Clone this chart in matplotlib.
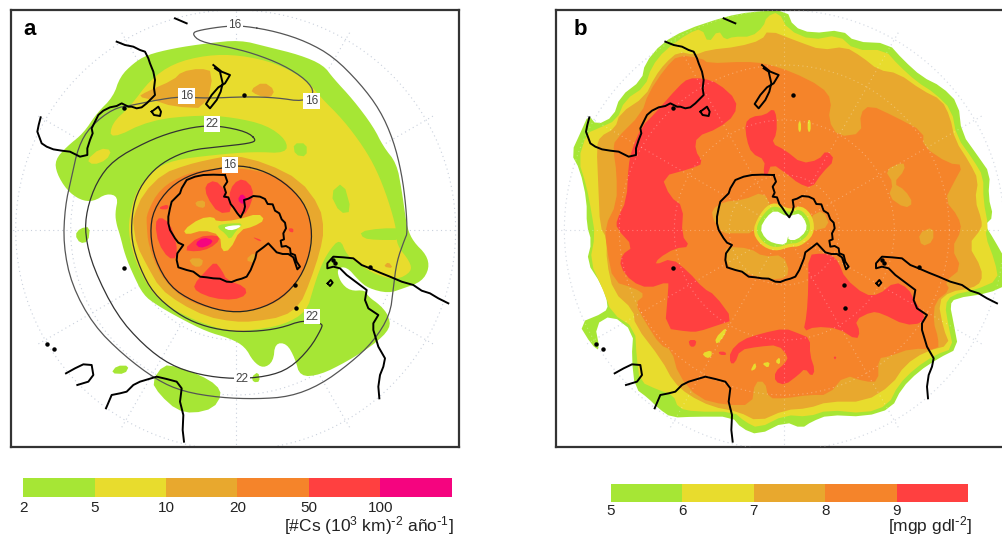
import numpy as np
import matplotlib
matplotlib.use("Agg")
import matplotlib.pyplot as plt

plt.rcParams['font.family'] = ['Liberation Sans', 'DejaVu Sans']
plt.rcParams['mathtext.default'] = 'regular'

# colours of the classes
GREEN = '#A6E635'
YELLOW = '#E8DC2D'
GOLD = '#E8A82E'
ORANGE = '#F5842A'
RED = '#FF4040'
MAGENTA = '#F5047F'

# legends
levels_a = ['2', '5', '10', '20', '50', '100']
levels_b = ['5', '6', '7', '8', '9']
colors_a = [GREEN, YELLOW, GOLD, ORANGE, RED, MAGENTA]
colors_b = [GREEN, YELLOW, GOLD, ORANGE, RED]

# map outlines, all traced from the picture (units = 1/3 pixel)
# ---- panel a
a_green = [(720,120),(800,140),(900,165),(970,195),(1000,235),(1060,300),(1120,380),(1150,440),(1190,490),(1205,570),(1215,640),(1222,685),(1240,725),(1280,765),(1288,805),(1265,845),(1210,865),(1165,880),(1105,865),(1075,840),(1040,800),(1010,805),(1020,845),(1050,873),(1095,870),(1105,890),(1140,915),(1165,945),(1172,985),(1120,1035),(1040,1085),(960,1125),(900,1130),(885,1075),(860,1030),(825,1030),(820,1085),(790,1105),(760,1085),(735,1040),(690,1015),(620,995),(540,955),(470,915),(430,885),(400,825),(375,765),(360,705),(350,675),(345,640),(355,590),(320,580),(280,605),(240,600),(200,570),(170,520),(165,480),(200,440),(250,400),(290,340),(340,290),(360,230),(400,190),(440,165),(520,145),(620,130)]
a_green_isolated = [
    [(225,705),(240,685),(270,680),(265,725),(240,730)],
    [(333,1120),(350,1097),(388,1097),(375,1122)],
    [(455,1145),(490,1095),(530,1100),(600,1125),(650,1155),(665,1185),(640,1225),(580,1240),(530,1230),(480,1185)],
    [(755,1130),(775,1115),(780,1145),(760,1147)],
]
a_yellow = [(330,420),(335,370),(390,320),(450,240),(520,190),(620,165),(720,165),(830,190),(920,240),(960,290),(1030,360),(1090,440),(1130,510),(1165,600),(1190,690),(1190,735),(1230,785),(1235,815),(1190,840),(1130,825),(1080,795),(1040,765),(1020,715),(985,755),(960,805),(940,865),(920,935),(850,975),(760,990),(700,995),(620,975),(540,940),(470,895),(430,835),(400,765),(385,695),(390,640),(410,570),(460,510),(520,480),(640,465),(760,455),(860,460),(860,420),(800,375),(700,352),(600,345),(450,360)]
a_yellow_small = [[(260,480),(300,445),(335,450),(320,480),(280,495)]]
a_green_over = [
    [(880,430),(920,430),(920,470),(885,465)],
    [(990,580),(1030,545),(1055,635),(1020,640)],
    [(1080,695),(1140,685),(1210,685),(1205,720),(1130,720),(1090,715)],
]
a_gold = [[(620,480),(700,465),(800,490),(900,540),(960,620),(972,690),(960,755),(930,845),(900,915),(850,950),(760,965),(700,965),(620,950),(540,910),(480,865),(440,795),(410,735),(400,675),(400,650),(430,580),(490,520),(560,495)],
          [(415,290),(440,275),(520,240),(545,215),(600,205),(640,215),(620,325),(520,320),(460,300)],
          [(750,270),(790,245),(825,270),(810,295),(770,285)],
          [(1150,800),(1165,785),(1180,805)]]
a_orange = [(640,505),(740,505),(840,530),(900,590),(930,660),(935,690),(925,785),(880,865),(820,915),(720,937),(620,925),(540,890),(480,825),(445,735),(440,675),(440,640),(480,565),(560,520)]
a_center_gold = [[(585,605),(615,600),(615,625),(590,620)],
                 [(565,775),(610,775),(605,800),(580,800)],
                 [(735,780),(765,755),(765,790)]]
a_center_yellow = [(550,690),(600,655),(640,650),(650,665),(710,660),(775,640),(795,660),(760,680),(720,690),(690,750),(665,755),(660,705),(610,690),(560,705)]
a_center_green = [(655,675),(690,670),(730,670),(710,690),(690,720),(675,700),(655,685)]
a_center_white = [(670,683),(690,677),(725,675),(715,685),(690,692)]
a_red = [[(615,555),(645,540),(675,570),(700,635),(655,640),(620,590)],
         [(685,590),(700,550),(730,535),(760,565),(755,610),(730,650),(705,630)],
         [(465,670),(480,650),(510,670),(530,730),(530,775),(505,775),(475,730)],
         [(580,855),(620,810),(645,785),(665,810),(680,840),(735,860),(740,885),(700,900),(640,895),(590,875)],
         [(550,750),(595,710),(650,705),(660,720),(630,745),(590,755)],
         [(480,620),(505,613),(505,628),(480,628)],
         [(865,685),(880,685),(880,698),(868,695)],
         [(755,710),(785,720),(780,725)]]
a_magenta = [[(585,730),(610,712),(640,720),(630,735),(600,745)],
             [(712,600),(725,580),(740,595),(730,615)]]
# contours: closed traces
a_cont_16_outer = [(735,78),(830,95),(920,125),(1000,170),(1080,250),(1140,330),(1180,420),(1205,520),(1218,620),(1222,700),(1215,715),(1190,785),(1180,865),(1170,945),(1120,1025),(1050,1090),(960,1155),(870,1190),(770,1197),(660,1193),(550,1175),(470,1140),(370,1065),(280,975),(215,855),(190,735),(195,620),(215,530),(235,440),(270,380),(340,325),(400,315),(470,300),(540,290),(620,295),(740,290),(830,293),(910,305),(945,280),(920,240),(850,195),(760,160),(680,140),(600,125),(575,100),(600,90),(680,78)]
a_cont_22 = [(770,420),(740,395),(660,378),(600,378),(520,395),(440,425),(340,480),(290,545),(260,630),(255,705),(280,805),(350,945),(430,1035),(510,1095),(600,1125),(700,1137),(800,1130),(870,1105),(930,1045),(965,985),(967,970),(910,960),(840,985),(760,995),(680,993),(600,975),(530,940),(460,880),(420,805),(395,725),(395,650),(410,580),(450,520),(500,480),(570,450),(660,440),(750,430)]
a_cont_16_inner = [(720,495),(800,515),(870,560),(920,620),(938,700),(925,780),(890,850),(830,905),(750,935),(670,935),(580,905),(510,860),(465,780),(450,700),(460,630),(510,560),(580,520),(660,505)]
cont_labels = [('16', 705, 75), ('16', 560, 288), ('16', 935, 303), ('22', 635, 372),
               ('16', 690, 495), ('22', 937, 950), ('22', 725, 1137)]

# ---- panel b
b_green = [(725,30),(745,80),(800,100),(890,90),(930,125),(1030,130),(1075,180),(1130,230),(1190,260),(1240,310),(1250,400),(1300,470),(1335,520),(1330,590),(1345,650),(1320,675),(1345,715),(1385,785),(1385,855),(1330,880),(1230,895),(1215,915),(1225,965),(1240,1045),(1180,1075),(1120,1115),(1070,1165),(1040,1225),(960,1250),(850,1245),(800,1265),(770,1285),(720,1265),(640,1305),(590,1285),(560,1250),(450,1250),(380,1253),(340,1225),(310,1195),(270,1165),(260,1075),(265,995),(200,945),(150,975),(165,1053),(140,1035),(100,970),(180,937),(190,915),(170,855),(125,785),(140,725),(125,675),(125,600),(105,510),(78,460),(110,390),(130,345),(155,375),(205,350),(225,290),(290,240),(300,190),(350,130),(420,90),(540,50),(620,35)]
b_yellow = [(430,100),(470,85),(490,130),(520,90),(540,120),(565,110),(620,110),(655,80),(665,50),(700,35),(730,90),(800,120),(880,105),(930,150),(1020,150),(1060,195),(1115,245),(1170,280),(1220,330),(1235,410),(1285,480),(1315,530),(1315,600),(1330,680),(1320,705),(1350,785),(1360,840),(1290,870),(1220,885),(1200,915),(1210,975),(1225,1045),(1170,1065),(1110,1105),(1060,1155),(1030,1215),(960,1240),(850,1230),(790,1250),(720,1245),(640,1285),(600,1265),(565,1235),(450,1235),(400,1225),(385,1185),(340,1170),(285,1145),(275,1075),(270,985),(200,940),(175,870),(135,785),(150,705),(140,640),(125,560),(100,480),(125,400),(160,385),(215,360),(240,300),(300,260),(320,200),(360,150)]
b_gold = [(360,190),(400,155),(450,165),(490,150),(580,140),(650,120),(670,90),(760,125),(830,150),(900,140),(950,170),(1000,210),(1060,220),(1130,270),(1190,300),(1215,350),(1230,420),(1275,490),(1300,540),(1290,600),(1310,660),(1310,685),(1270,735),(1310,805),(1310,845),(1280,865),(1215,875),(1180,905),(1195,985),(1215,1035),(1140,1055),(1080,1095),(1040,1155),(960,1205),(850,1205),(790,1225),(720,1230),(640,1265),(580,1235),(500,1220),(430,1185),(385,1145),(350,1080),(270,975),(265,930),(205,875),(185,785),(185,715),(165,680),(160,560),(155,440),(165,410),(210,385),(225,340),(300,290),(330,230)]
b_orange = [(360,205),(400,165),(470,175),(490,190),(600,185),(660,190),(740,215),(830,260),(860,300),(850,360),(880,410),(950,400),(945,340),(975,315),(1050,350),(1135,395),(1135,440),(1210,490),(1255,495),(1225,550),(1200,600),(1240,650),(1250,690),(1220,745),(1250,805),(1200,845),(1215,870),(1170,905),(1165,965),(1180,1015),(1180,1050),(1100,1045),(1030,1070),(1000,1075),(1000,1145),(960,1145),(900,1125),(850,1185),(790,1185),(720,1195),(670,1195),(660,1145),(630,1145),(620,1215),(540,1215),(460,1195),(400,1125),(380,1050),(345,1035),(300,965),(270,910),(300,885),(270,865),(205,845),(185,745),(180,680),(215,610),(215,520),(205,450),(210,420),(290,340),(310,280)]
b_gold_over = [[(500,630),(535,605),(595,600),(655,575),(680,620),(635,655),(625,700),(575,700),(535,700),(520,680),(505,660)],
               [(545,740),(615,745),(655,770),(715,765),(735,820),(705,840),(635,830),(575,810),(550,800),(540,765)],
               [(1020,510),(1075,485),(1080,510),(1045,550),(1080,570),(1105,610),(1080,625),(1030,590),(1045,550)],
               [(1120,700),(1165,680),(1165,725),(1130,740)],
               [(795,650),(835,630),(855,680),(795,695)]]
b_yellow_over = [[(510,1015),(545,980),(540,1005),(515,1035)],
                 [(470,1060),(500,1050),(500,1070),(485,1075)],
                 [(615,1115),(630,1085),(635,1105)],
                 [(650,1090),(675,1085),(670,1105)],
                 [(690,1085),(705,1070),(705,1095)],
                 [(760,365),(768,365),(768,395),(760,395)],
                 [(788,360),(797,360),(797,395),(788,395)]]
b_red = [[(400,260),(430,235),(475,235),(520,250),(575,300),(570,345),(520,385),(455,410),(450,450),(475,490),(440,505),(350,530),(375,590),(415,620),(410,705),(435,740),(390,745),(340,775),(330,795),(380,775),(430,815),(475,865),(510,885),(565,960),(520,975),(460,995),(430,995),(360,985),(370,865),(370,845),(310,865),(260,845),(225,800),(230,765),(265,740),(215,685),(215,660),(245,600),(250,500),(260,450),(290,380),(330,340)],
         [(600,370),(620,350),(660,345),(685,325),(695,350),(695,400),(680,430),(720,450),(770,490),(820,480),(845,450),(870,480),(830,520),(800,565),(760,550),(730,525),(680,490),(665,530),(655,520),(660,480),(620,460),(605,420)],
         [(790,765),(830,760),(860,765),(880,785),(900,835),(960,885),(1000,885),(1050,845),(1090,865),(1110,905),(1140,945),(1130,970),(1080,975),(1010,940),(980,935),(930,960),(945,995),(935,1020),(880,985),(810,980),(775,995),(785,945),(790,865)],
         [(555,1055),(590,1020),(650,1000),(720,985),(760,1000),(795,1015),(795,1065),(810,1110),(800,1130),(780,1105),(760,1125),(720,1155),(690,1145),(690,1115),(720,1090),(730,1070),(700,1035),(640,1040),(585,1050),(570,1090),(555,1090)],
         [(430,1020),(455,1020),(450,1040),(435,1040)],
         [(520,1055),(540,1055),(545,1065),(525,1065)],
         [(865,1070),(875,1070),(870,1080)]]
b_hole_yellow = [(620,690),(655,625),(690,605),(735,630),(770,615),(805,650),(808,705),(765,740),(735,740),(690,755),(645,735)]
b_hole_green = [(630,685),(660,635),(690,615),(735,640),(765,625),(795,660),(795,700),(760,730),(735,730),(690,745),(650,725)]
b_hole_white = [(645,685),(665,650),(690,630),(725,650),(745,645),(765,640),(785,670),(783,695),(755,720),(730,720),(730,705),(723,735),(685,730),(660,715)]

# ---- coastlines (as in panel a, panel b is shifted)
coast_antarctica = [(675,525),(682,545),(672,560),(678,578),(672,590),(685,592),(692,612),(700,622),(712,640),(722,652),(732,632),(735,620),(732,600),(745,596),(760,588),(780,590),(795,597),(803,612),(818,613),(825,632),(838,640),(845,658),(855,668),(858,685),(850,700),(852,718),(842,722),(845,740),(858,738),(870,745),(872,760),(885,765),(890,785),(900,800),(892,808),(880,772),(865,762),(848,762),(830,757),(805,730),(790,742),(770,757),(766,775),(760,790),(752,810),(740,830),(725,836),(710,840),(695,846),(680,845),(660,836),(640,835),(620,832),(600,830),(580,815),(560,810),(535,802),(530,780),(532,760),(550,735),(535,728),(525,715),(510,690),(505,670),(505,650),(510,625),(515,605),(540,580),(545,565),(560,540),(585,530),(610,525),(640,524),(675,525)]
coast_australia = [(350,125),(375,135),(400,140),(420,150),(435,155),(445,175),(450,190),(460,215),(465,240),(462,265),(465,285),(450,300),(440,310),(425,322),(410,325),(395,320),(385,320),(365,310),(350,318),(330,322),(310,332),(295,345),(285,365),(275,385),(278,400),(270,420),(262,445),(262,465),(240,470),(210,455),(185,452),(160,448),(140,440),(125,430),(112,395),(116,375),(122,352)]
coast_tasmania = [(455,335),(475,320),(483,335),(480,348),(462,345),(455,335)]
coast_nz = [(640,195),(665,215),(690,225),(675,250),(655,262),(635,285),(618,312),(630,325),(650,300),(662,275),(668,250),(660,215),(645,205)]
coast_samerica = [(1345,910),(1315,895),(1290,880),(1265,872),(1240,855),(1205,845),(1170,830),(1140,818),(1110,805),(1085,795),(1060,775),(1030,772),(1000,770),(982,790),(982,805),(1000,800),(1020,805),(1040,825),(1060,840),(1080,855),(1100,870),(1095,900),(1105,925),(1135,945),(1120,970),(1120,990),(1135,1040),(1155,1075),(1150,1100),(1140,1125),(1135,1160),(1138,1195)]
coast_safrica = [(318,1225),(335,1185),(360,1180),(380,1175),(400,1155),(420,1145),(470,1130),(500,1137),(530,1145),(545,1165),(540,1205),(550,1245),(548,1290),(552,1325)]
coast_madagascar = [(198,1120),(225,1105),(250,1093),(275,1095),(280,1125),(265,1145),(232,1155)]
coast_falkland = [(983,850),(992,840),(998,848),(990,858),(983,850)]
coast_bit = [(525,55),(560,70)]
coast_lines = [coast_antarctica, coast_australia, coast_tasmania, coast_nz, coast_samerica,
               coast_safrica, coast_madagascar, coast_falkland, coast_bit]
islands_x = [372, 142, 163, 885, 888, 732, 372, 1000, 1005, 1110]
islands_y = [803, 1033, 1048, 855, 925, 285, 323, 780, 790, 800]

# graticule
grid_radii = [165, 330, 495, 660]
grid_angles = [0, 30, 60, 90, 120, 150, 180, 210, 240, 270, 300, 330]


def rounded(pts, n=2):
    # corner cutting on a closed outline, for drawing only
    p = np.array(pts, dtype=float)
    for _ in range(n):
        q = np.roll(p, -1, axis=0)
        p = np.column_stack([0.75 * p + 0.25 * q, 0.25 * p + 0.75 * q]).reshape(-1, 2)
    return p


def fill(ax, pts, color, z, n=2):
    p = rounded(pts, n)
    ax.fill(p[:, 0], p[:, 1], color=color, lw=0, zorder=z)


def make_map(left_px, right_px, x0):
    # axis in 1/3 pixel units, y down
    ax = fig.add_axes([left_px / W, 1 - 447 / H, (right_px - left_px) / W, 437 / H])
    ax.set_xlim(x0, x0 + (right_px - left_px) * 3)
    ax.set_ylim(1341, 30)
    ax.set_xticks([])
    ax.set_yticks([])
    for s in ax.spines.values():
        s.set_color('#333333')
        s.set_linewidth(1.6)
    return ax


def graticule(ax, cx, cy, color, z, alpha=1.0):
    t = np.linspace(0, 2 * np.pi, 361)
    dots = (0, (1, 3))
    for r in grid_radii:
        ax.plot(cx + r * np.cos(t), cy + r * np.sin(t), ls=dots, lw=0.8, color=color, zorder=z, alpha=alpha)
    for ang in grid_angles:
        a = np.deg2rad(ang)
        ax.plot([cx, cx + 690 * np.cos(a)], [cy, cy + 690 * np.sin(a)], ls=dots, lw=0.8,
                color=color, zorder=z, alpha=alpha)


def coasts(ax, dx):
    for line in coast_lines:
        x, y = zip(*line)
        ax.plot(np.array(x) + dx, y, color='black', lw=1.4, zorder=8)
    ax.plot(np.array(islands_x) + dx, islands_y, 'o', color='black', ms=2.2, zorder=8)


def legend(left, right, top, bottom, colors, labels, label_y):
    ax = fig.add_axes([left / W, 1 - bottom / H, (right - left) / W, (bottom - top) / H])
    ax.bar(range(len(colors)), [1] * len(colors), width=1.0, align='edge', color=colors)
    ax.set_xlim(0, len(colors))
    ax.set_ylim(0, 1)
    ax.axis('off')
    for i, lab in enumerate(labels):
        fig.text((left + i * (right - left) / len(colors)) / W, 1 - label_y / H, lab,
                 ha='center', va='center', fontsize=11, color='#222222')


W, H = 1003, 537
fig = plt.figure(figsize=(W / 100, H / 100), dpi=100)

# panel a
ax_a = make_map(11, 459, 33)
graticule(ax_a, 707, 690, '#c9d0dc', 0.5)
fill(ax_a, a_green, GREEN, 1)
for p in a_green_isolated:
    fill(ax_a, p, GREEN, 1, n=1)
fill(ax_a, a_yellow, YELLOW, 2)
for p in a_yellow_small:
    fill(ax_a, p, YELLOW, 2, n=1)
for p in a_green_over:
    fill(ax_a, p, GREEN, 2.5, n=1)
for p in a_gold:
    fill(ax_a, p, GOLD, 3, n=1)
fill(ax_a, a_orange, ORANGE, 4)
for p in a_center_gold:
    fill(ax_a, p, GOLD, 4.2, n=1)
fill(ax_a, a_center_yellow, YELLOW, 4.3, n=1)
fill(ax_a, a_center_green, GREEN, 4.4, n=1)
fill(ax_a, a_center_white, 'white', 4.5, n=1)
for p in a_red:
    fill(ax_a, p, RED, 5, n=1)
for p in a_magenta:
    fill(ax_a, p, MAGENTA, 5.5, n=1)
for pts, col in [(a_cont_16_outer, '#555555'), (a_cont_22, '#333333'), (a_cont_16_inner, '#222222')]:
    p = rounded(pts)
    p = np.vstack([p, p[:1]])
    ax_a.plot(p[:, 0], p[:, 1], color=col, lw=0.9, zorder=7)
coasts(ax_a, 0)
for lab, x, y in cont_labels:
    ax_a.text(x, y, lab, ha='center', va='center', fontsize=8.5, color='#444444', zorder=9,
              bbox=dict(facecolor='white', edgecolor='none', pad=1.2))
ax_a.text(70, 88, 'a', fontsize=16, fontweight='bold', ha='left', va='center', zorder=10)

# panel b
ax_b = make_map(556, 1006, 33)
graticule(ax_b, 718, 690, '#c9d0dc', 0.5)
fill(ax_b, b_green, GREEN, 1, n=1)
fill(ax_b, b_yellow, YELLOW, 2, n=1)
fill(ax_b, b_gold, GOLD, 3, n=1)
fill(ax_b, b_orange, ORANGE, 4, n=1)
for p in b_gold_over:
    fill(ax_b, p, GOLD, 4.2, n=1)
for p in b_red:
    fill(ax_b, p, RED, 5, n=1)
for p in b_yellow_over:
    fill(ax_b, p, YELLOW, 5.2, n=1)
fill(ax_b, b_hole_yellow, YELLOW, 5.5)
fill(ax_b, b_hole_green, GREEN, 5.6)
fill(ax_b, b_hole_white, 'white', 5.7, n=1)
graticule(ax_b, 718, 690, 'white', 6, alpha=0.3)
coasts(ax_b, 11)
ax_b.text(87, 88, 'b', fontsize=16, fontweight='bold', ha='left', va='center', zorder=10)

# colour bars
legend(23.3, 451.7, 478.3, 496.7, colors_a, levels_a, 508)
legend(611, 968, 484.3, 502.3, colors_b, levels_b, 511)
fig.text(454 / W, 1 - 526 / H, r'[#Cs (10$^{3}$ km)$^{\text{-}2}$ año$^{\text{-}1}$]', ha='right', va='center',
         fontsize=12.5, color='#222222')
fig.text(972 / W, 1 - 526 / H, r'[mgp gdl$^{\text{-}2}$]', ha='right', va='center', fontsize=12.5,
         color='#222222')

fig.savefig('out.png', dpi=100)
